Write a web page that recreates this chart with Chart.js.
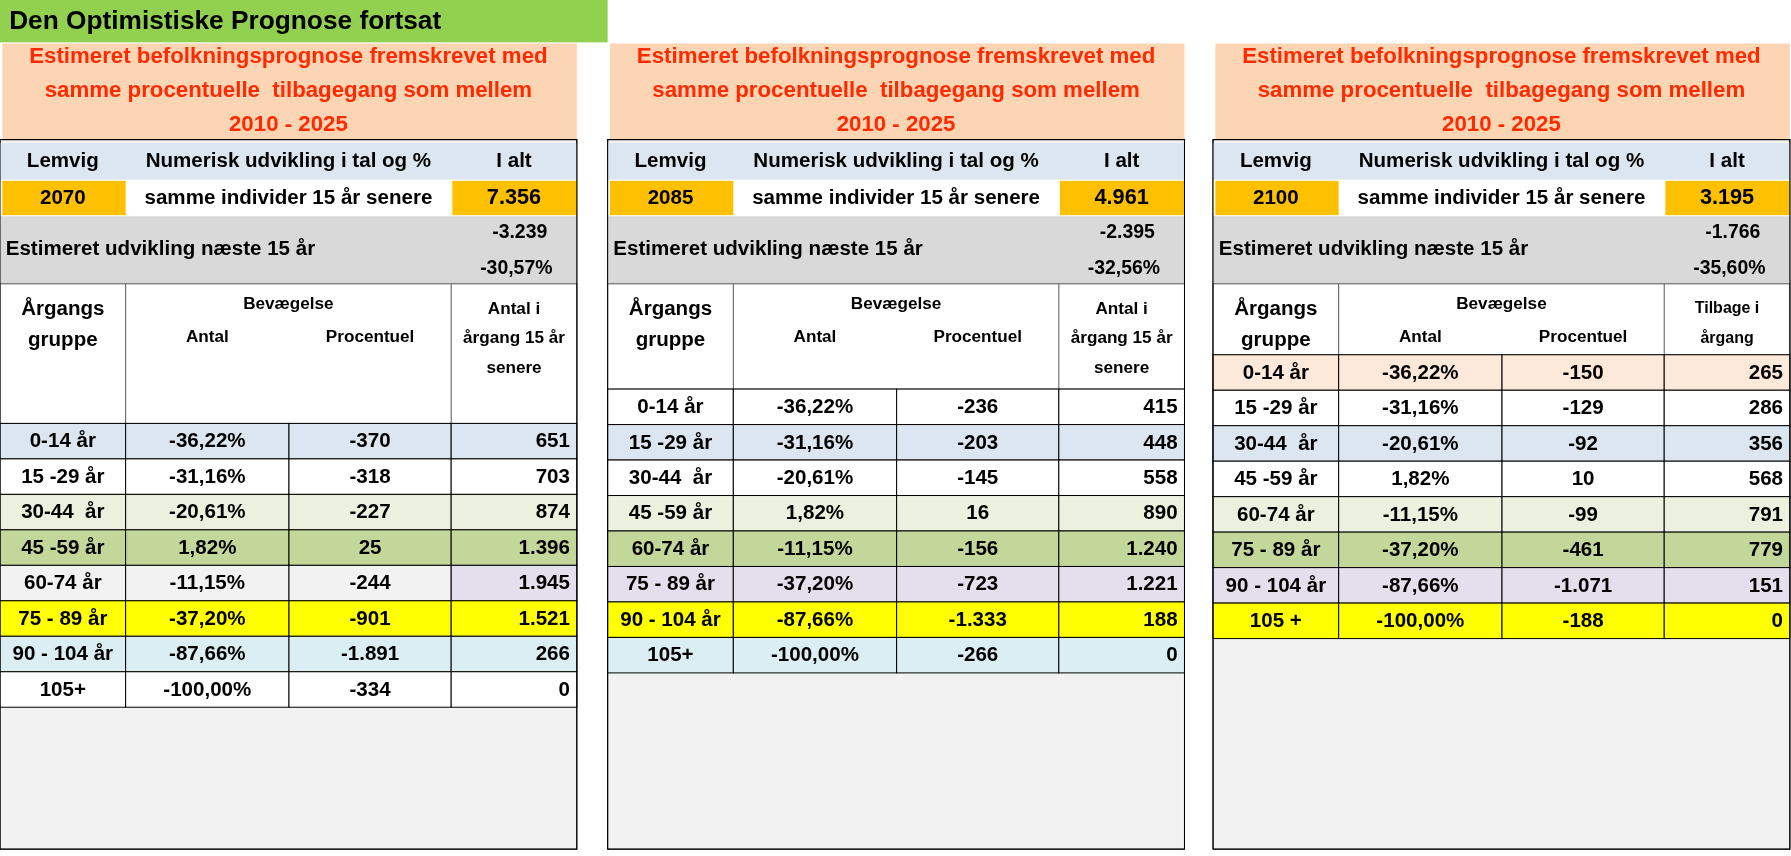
<!DOCTYPE html>
<html lang="da">
<head>
<meta charset="UTF-8">
<title>Den Optimistiske Prognose fortsat</title>
<script src="https://cdn.jsdelivr.net/npm/chart.js"></script>
<style>
  html, body { margin: 0; padding: 0; background: #fff; }
  .wrap { width: 1791px; height: 856px; }
</style>
</head>
<body>
<div class="wrap"><canvas id="tabel"></canvas></div>
<script>
// Data
const titel = "Den Optimistiske Prognose fortsat";
const overskrift = ["Estimeret befolkningsprognose fremskrevet med", "samme procentuelle  tilbagegang som mellem", "2010 - 2025"];
const aar = [2070, 2085, 2100];
const iAlt = [7356, 4961, 3195];
const udvikling = [-3239, -2395, -1766];
const udviklingPct = [-30.57, -32.56, -35.60];
const grupper1 = ["0-14 år", "15 -29 år", "30-44  år", "45 -59 år", "60-74 år", "75 - 89 år", "90 - 104 år", "105+"];
const grupper3 = ["0-14 år", "15 -29 år", "30-44  år", "45 -59 år", "60-74 år", "75 - 89 år", "90 - 104 år", "105 +"];
const procent = [-36.22, -31.16, -20.61, 1.82, -11.15, -37.20, -87.66, -100.00];
const antal2070 = [-370, -318, -227, 25, -244, -901, -1891, -334];
const antal2085 = [-236, -203, -145, 16, -156, -723, -1333, -266];
const antal2100 = [-150, -129, -92, 10, -99, -461, -1071, -188];
const senere2070 = [651, 703, 874, 1396, 1945, 1521, 266, 0];
const senere2085 = [415, 448, 558, 890, 1240, 1221, 188, 0];
const tilbage2100 = [265, 286, 356, 568, 791, 779, 151, 0];

function tal(v) {
  const s = Math.abs(v).toString().replace(/\B(?=(\d{3})+(?!\d))/g, ".");
  return (v < 0 ? "-" : "") + s;
}
function pct(v) { return v.toFixed(2).replace(".", ",") + "%"; }

const paneler = [
  { x0: 0, grupper: grupper1, antal: antal2070, sidst: senere2070, hovedSlut: 370,
    sidstHoved: ["Antal i", "årgang 15 år", "senere"], lille: false,
    farver: ["#dce6f1", "#ffffff", "#ebf1de", "#c4d79b", "#f2f2f2", "#ffff00", "#daeef3", "#ffffff"] },
  { x0: 532, grupper: grupper1, antal: antal2085, sidst: senere2085, hovedSlut: 340,
    sidstHoved: ["Antal i", "årgang 15 år", "senere"], lille: false,
    farver: ["#ffffff", "#dce6f1", "#ffffff", "#ebf1de", "#c4d79b", "#e4dfec", "#ffff00", "#daeef3"] },
  { x0: 1062, grupper: grupper3, antal: antal2100, sidst: tilbage2100, hovedSlut: 310,
    sidstHoved: ["Tilbage i", "årgang"], lille: true,
    farver: ["#fde9d9", "#ffffff", "#dce6f1", "#ffffff", "#ebf1de", "#c4d79b", "#e4dfec", "#ffff00"] }
];

const tabelPlugin = {
  id: "tabel",
  afterDraw(chart) {
    const ctx = chart.ctx, sx = chart.scales.x, sy = chart.scales.y;
    const X = v => sx.getPixelForValue(v), Y = v => sy.getPixelForValue(v);
    const k = chart.width / 1568;
    const FONT = "'Liberation Sans Narrow', 'Liberation Sans', Arial, sans-serif";
    function rect(x, y, w, h, fill, stroke) {
      const px = X(x), py = Y(y), pw = X(x + w) - px, ph = Y(y + h) - py;
      if (fill) { ctx.fillStyle = fill; ctx.fillRect(px, py, pw, ph); }
      if (stroke) { ctx.strokeStyle = stroke; ctx.lineWidth = 1; ctx.strokeRect(px, py, pw, ph); }
    }
    function txt(s, x, y, size, align, color) {
      ctx.font = "bold " + (size * k) + "px " + FONT;
      ctx.fillStyle = color || "#000";
      ctx.textAlign = align || "center";
      ctx.textBaseline = "middle";
      ctx.fillText(s, X(x), Y(y));
    }
    ctx.save();
    // titel
    rect(0, 0, 532, 37, "#92d050");
    txt(titel, 8, 19, 23, "left");
    aar.forEach((a, p) => {
      const P = paneler[p], x0 = P.x0, W = 505;
      const c1 = x0 + 110, c2 = x0 + 253, c3 = x0 + 395, xe = x0 + W;
      rect(x0 + 2, 38, W - 2, 84, "#fcd5b4");
      overskrift.forEach((l, i) => txt(l, x0 + W / 2, 50 + i * 29.5, 19.5, "center", "#ff2a00"));
      // baggrund
      rect(x0, 122, W, 620, "#f2f2f2", "#000");
      rect(x0, 125, W, 32, "#dce6f1");
      txt("Lemvig", x0 + 55, 141, 18); txt("Numerisk udvikling i tal og %", (c1 + c3) / 2, 141, 18); txt("I alt", x0 + 450, 141, 18);
      rect(x0, 157, W, 32, "#ffffff");
      rect(x0 + 2, 158, 108, 30, "#ffc000"); rect(c3 + 1, 158, 109, 30, "#ffc000");
      txt(String(a), x0 + 55, 173, 18); txt("samme individer 15 år senere", (c1 + c3) / 2, 173, 18); txt(tal(iAlt[p]), x0 + 450, 173, 19);
      rect(x0, 189, W, 59, "#d9d9d9");
      txt("Estimeret udvikling næste 15 år", x0 + 5, 218, 18, "left");
      txt(tal(udvikling[p]), x0 + 455, 203, 17); txt(pct(udviklingPct[p]), x0 + 452, 235, 17);
      // kolonnehoved
      const h0 = 248, h1 = P.hovedSlut;
      rect(x0, h0, W, h1 - h0, "#ffffff", "#555");
      ctx.strokeStyle = "#555"; ctx.beginPath();
      [c1, c3].forEach(c => { ctx.moveTo(X(c), Y(h0)); ctx.lineTo(X(c), Y(h1)); });
      ctx.stroke();
      txt("Årgangs", x0 + 55, 270, 18); txt("gruppe", x0 + 55, 297, 18);
      txt("Bevægelse", (c1 + c3) / 2, 266, 15); txt("Antal", (c1 + c2) / 2, 295, 15); txt("Procentuel", (c2 + c3) / 2, 295, 15);
      P.sidstHoved.forEach((l, i) => txt(l, (c3 + xe) / 2, 270 + i * 26, P.lille ? 14 : 15));
      // datarækker
      P.grupper.forEach((g, i) => {
        const y = h1 + i * 31;
        [[x0, c1], [c1, c2], [c2, c3], [c3, xe]].forEach(([a1, a2], j) => {
          let f = P.farver[i];
          if (p === 0 && i === 4 && j === 3) f = "#e4dfec";
          rect(a1, y, a2 - a1, 31, f, "#000");
        });
        txt(g, x0 + 55, y + 16, 18);
        txt(pct(procent[i]), (c1 + c2) / 2, y + 16, 18);
        txt(tal(P.antal[i]), (c2 + c3) / 2, y + 16, 18);
        txt(tal(P.sidst[i]), xe - 6, y + 16, 18, "right");
      });
      rect(x0, 122, W, 620, null, "#000");
    });
    ctx.restore();
  }
};

new Chart(document.getElementById("tabel"), {
  type: "scatter",
  data: { datasets: [{ data: [] }] },
  options: {
    responsive: true, maintainAspectRatio: false, animation: false,
    layout: { padding: 0 },
    plugins: { legend: { display: false }, tooltip: { enabled: false } },
    scales: {
      x: { type: "linear", min: 0, max: 1568, display: false },
      y: { type: "linear", min: 0, max: 748, reverse: true, display: false }
    }
  },
  plugins: [tabelPlugin]
});
</script>
</body>
</html>
